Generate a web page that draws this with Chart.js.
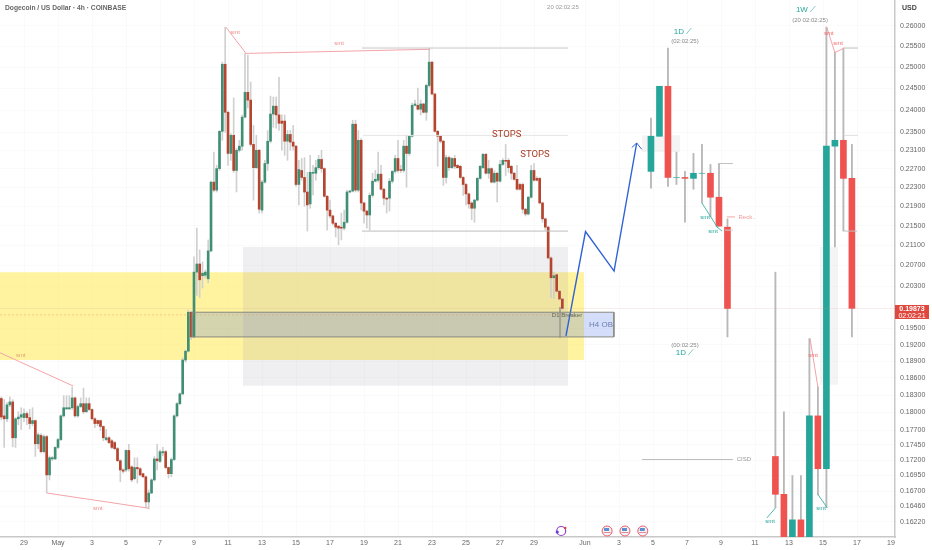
<!DOCTYPE html>
<html>
<head>
<meta charset="utf-8">
<title>Dogecoin / US Dollar</title>
<script src="https://cdn.jsdelivr.net/npm/chart.js"></script>
<style>
  html, body { margin: 0; padding: 0; background: #fff; }
  canvas { display: block; filter: blur(0.3px); }
</style>
</head>
<body>
<canvas id="chart" width="932" height="550"></canvas>
<script>
// x is counted in days from 29 Apr
const dayTicks = [0, 2, 4, 6, 8, 10, 12, 14, 16, 18, 20, 22, 24, 26, 28, 30, 33, 35, 37, 39, 41, 43, 45, 47, 49, 51];
const dayLabels = ['29', 'May', '3', '5', '7', '9', '11', '13', '15', '17', '19', '21', '23', '25', '27', '29', 'Jun', '3', '5', '7', '9', '11', '13', '15', '17', '19'];
const priceTicks = [0.26, 0.255, 0.25, 0.245, 0.24, 0.235, 0.231, 0.227, 0.223, 0.219, 0.215, 0.211, 0.207, 0.203,
  0.195, 0.192, 0.189, 0.186, 0.183, 0.18, 0.177, 0.1745, 0.172, 0.1695, 0.167, 0.1646, 0.1622];

// 4h candles
const open4h = [
  .1824,.1794,.1789,.1813,.1818,.1757,.1789,.1792,.1791,.1798,
  .1791,.1781,.1786,.1747,.1761,.1734,.1759,.1696,.1722,.1722,
  .1741,.1754,.1794,.1806,.1806,.1808,.1825,.1794,.1810,.1815,
  .1801,.1815,.1805,.1789,.1786,.1786,.1776,.1754,.1757,.1752,
  .1749,.1739,.1719,.1704,.1704,.1736,.1709,.1690,.1708,.1706,
  .1698,.1693,.1653,.1667,.1688,.1722,.1718,.1732,.1734,.1708,
  .1698,.1721,.1794,.1815,.1832,.1892,.1908,.1980,.1934,.2057,
  .2073,.2050,.2051,.2044,.2099,.2241,.2224,.2270,.2352,.2507,
  .2395,.2303,.2343,.2266,.2310,.2319,.2384,.2441,.2423,.2323,
  .2272,.2310,.2182,.2241,.2281,.2330,.2391,.2409,.2389,.2375,
  .2375,.2330,.2345,.2328,.2319,.2236,.2266,.2251,.2220,.2195,
  .2260,.2260,.2272,.2290,.2270,.2211,.2182,.2170,.2155,.2149,
  .2147,.2145,.2157,.2220,.2222,.2368,.2224,.2332,.2197,.2180,
  .2172,.2213,.2243,.2245,.2258,.2226,.2207,.2207,.2243,.2264,
  .2292,.2268,.2266,.2319,.2303,.2341,.2411,.2411,.2402,.2414,
  .2395,.2457,.2512,.2437,.2352,.2341,.2330,.2251,.2294,.2272,
  .2292,.2277,.2275,.2251,.2236,.2216,.2197,.2186,.2203,.2249,
  .2272,.2301,.2260,.2270,.2241,.2260,.2243,.2279,.2288,.2288,
  .2275,.2260,.2247,.2236,.2236,.2184,.2174,.2209,.2266,.2249,
  .2249,.2197,.2164,.2147,.2085,.2046,.2052,.2020,.2005];
const high4h = [
  .1827,.1822,.1817,.1827,.1822,.1791,.1801,.1808,.1806,.1801,
  .1805,.1808,.1787,.1765,.1764,.1762,.1761,.1727,.1726,.1742,
  .1756,.1796,.1829,.1829,.1829,.1844,.1827,.1813,.1825,.1842,
  .1825,.1825,.1806,.1791,.1787,.1787,.1777,.1771,.1759,.1754,
  .1751,.1741,.1721,.1706,.1737,.1746,.1711,.1724,.1724,.1708,
  .1699,.1694,.1672,.1690,.1726,.1746,.1737,.1741,.1736,.1709,
  .1724,.1796,.1817,.1834,.1896,.1910,.1984,.1982,.2087,.2145,
  .2101,.2077,.2061,.2121,.2243,.2306,.2277,.2354,.2512,.2597,
  .2398,.2347,.2428,.2314,.2332,.2389,.2534,.2529,.2465,.2365,
  .2343,.2312,.2245,.2288,.2354,.2432,.2430,.2430,.2476,.2389,
  .2389,.2354,.2354,.2365,.2321,.2288,.2292,.2294,.2262,.2299,
  .2277,.2288,.2299,.2310,.2272,.2213,.2203,.2172,.2157,.2151,
  .2176,.2182,.2224,.2224,.2377,.2377,.2354,.2336,.2199,.2182,
  .2218,.2260,.2266,.2306,.2277,.2228,.2209,.2249,.2266,.2299,
  .2332,.2277,.2332,.2343,.2343,.2416,.2423,.2451,.2423,.2416,
  .2460,.2546,.2514,.2439,.2354,.2343,.2332,.2299,.2297,.2294,
  .2299,.2279,.2277,.2253,.2239,.2218,.2199,.2205,.2251,.2277,
  .2303,.2303,.2288,.2272,.2266,.2262,.2288,.2292,.2323,.2292,
  .2277,.2262,.2277,.2239,.2239,.2186,.2211,.2277,.2281,.2253,
  .2251,.2199,.2166,.2149,.2087,.2057,.2054,.2022,.2007];
const low4h = [
  .1787,.1741,.1784,.1810,.1742,.1741,.1779,.1771,.1784,.1779,
  .1772,.1777,.1726,.1739,.1732,.1732,.1667,.1688,.1719,.1721,
  .1739,.1752,.1792,.1805,.1805,.1805,.1792,.1792,.1808,.1798,
  .1800,.1803,.1787,.1774,.1777,.1769,.1752,.1752,.1747,.1739,
  .1737,.1718,.1685,.1699,.1701,.1702,.1685,.1688,.1683,.1694,
  .1691,.1644,.1642,.1666,.1686,.1704,.1716,.1727,.1706,.1691,
  .1693,.1719,.1792,.1813,.1830,.1888,.1906,.1929,.1932,.2012,
  .2008,.2026,.2046,.2036,.2097,.2220,.2220,.2266,.2332,.2350,
  .2277,.2288,.2262,.2220,.2306,.2310,.2382,.2405,.2319,.2203,
  .2270,.2176,.2176,.2239,.2266,.2326,.2361,.2359,.2354,.2310,
  .2299,.2288,.2310,.2310,.2232,.2193,.2245,.2190,.2139,.2186,
  .2214,.2245,.2268,.2262,.2209,.2141,.2166,.2151,.2127,.2111,
  .2121,.2141,.2155,.2218,.2220,.2220,.2220,.2182,.2155,.2145,
  .2141,.2209,.2241,.2241,.2224,.2193,.2176,.2180,.2239,.2260,
  .2262,.2262,.2262,.2230,.2299,.2339,.2409,.2400,.2389,.2393,
  .2377,.2453,.2435,.2350,.2275,.2326,.2234,.2239,.2266,.2270,
  .2270,.2270,.2249,.2213,.2193,.2186,.2162,.2157,.2201,.2247,
  .2270,.2258,.2249,.2239,.2239,.2199,.2241,.2277,.2255,.2262,
  .2247,.2245,.2224,.2224,.2176,.2170,.2172,.2207,.2243,.2243,
  .2195,.2157,.2141,.2083,.2008,.2006,.2018,.2003,.1984];
const close4h = [
  .1792,.1789,.1813,.1818,.1757,.1789,.1792,.1796,.1798,.1791,
  .1781,.1786,.1747,.1762,.1734,.1759,.1696,.1724,.1724,.1741,
  .1754,.1794,.1808,.1808,.1808,.1825,.1794,.1810,.1815,.1801,
  .1815,.1805,.1789,.1781,.1781,.1776,.1757,.1757,.1749,.1741,
  .1739,.1719,.1704,.1702,.1736,.1706,.1688,.1708,.1706,.1696,
  .1693,.1653,.1667,.1688,.1722,.1719,.1734,.1734,.1708,.1698,
  .1721,.1794,.1815,.1832,.1892,.1908,.1980,.1934,.2057,.2073,
  .2042,.2055,.2057,.2099,.2241,.2224,.2270,.2352,.2507,.2395,
  .2303,.2343,.2266,.2310,.2319,.2384,.2441,.2423,.2323,.2272,
  .2310,.2184,.2241,.2281,.2330,.2391,.2409,.2389,.2370,.2370,
  .2330,.2345,.2328,.2319,.2236,.2268,.2251,.2220,.2193,.2262,
  .2262,.2272,.2290,.2270,.2211,.2182,.2170,.2155,.2147,.2145,
  .2145,.2157,.2220,.2222,.2368,.2224,.2332,.2197,.2180,.2172,
  .2213,.2243,.2247,.2258,.2226,.2207,.2205,.2243,.2264,.2292,
  .2266,.2266,.2319,.2303,.2341,.2411,.2414,.2402,.2414,.2395,
  .2457,.2512,.2437,.2352,.2341,.2330,.2251,.2294,.2272,.2292,
  .2275,.2272,.2251,.2236,.2216,.2195,.2186,.2203,.2249,.2275,
  .2301,.2260,.2270,.2241,.2260,.2243,.2279,.2288,.2286,.2272,
  .2260,.2247,.2226,.2226,.2184,.2174,.2209,.2266,.2245,.2245,
  .2197,.2164,.2147,.2085,.2046,.2050,.2020,.2005,.1987];

// projected 1D candles
const open1d  = [.2264,.2341,.2455,.2251,.2251,.2249,.2260,.2260,.2209,.2147];
const high1d  = [.2382,.2455,.2546,.2306,.2264,.2303,.2323,.2279,.2281,.2164];
const low1d   = [.2228,.2341,.2232,.2236,.2157,.2226,.2197,.2168,.2149,.1934];
const close1d = [.2341,.2455,.2251,.2251,.2249,.2260,.2260,.2209,.2149,.1987];

// projected 1W candles
const open1w  = [.1726,.1665,.1585,.1625,.1585,.1794,.1706,.2319,.2332,.2249];
const high1w  = [.2057,.1801,.1695,.1695,.1931,.1844,.2597,.2536,.2546,.2323];
const low1w   = [.1644,.1585,.1585,.1585,.1585,.1664,.1644,.2107,.2139,.1934];
const close1w = [.1665,.1585,.1625,.1585,.1794,.1706,.2319,.2332,.2249,.1987];

const xMin = -1.412, xMax = 51.235;
const yMin = 0.15987, yMax = 0.26651;

function candleSets(opens, highs, lows, closes, firstDay, step, up, down, wick, bodyW, wickW) {
  const xs = opens.map((_, i) => firstDay + i * step);
  return [{
    type: 'bar', order: 6, grouped: false, barThickness: wickW, backgroundColor: wick,
    data: xs.map((x, i) => ({ x: x, y: [lows[i], highs[i]] }))
  }, {
    type: 'bar', order: 5, grouped: false, barThickness: bodyW, minBarLength: 0,
    backgroundColor: closes.map((c, i) => c >= opens[i] ? up : down),
    data: xs.map((x, i) => ({ x: x, y: [opens[i], closes[i]] }))
  }];
}

function zone(x0, x1, top, bottom, color, order) {
  return {
    type: 'line', order: order, data: [{ x: x0, y: top }, { x: x1, y: top }],
    fill: { value: bottom }, backgroundColor: color, borderWidth: 0, pointRadius: 0
  };
}

function path(points, color, width, dash) {
  return {
    type: 'line', order: 2, data: points.map(p => ({ x: p[0], y: p[1] })), fill: false,
    borderColor: color, borderWidth: width || 1, borderDash: dash || [], pointRadius: 0, tension: 0
  };
}

const PINK = '#f5a3a8', TEAL = '#4db6ac', BLUE = '#2f62d6';

const datasets = [
  zone(xMin, 32.94, 0.2057, 0.1892, 'rgba(255,232,70,0.52)', 12),
  zone(12.88, 32, 0.2107, 0.1846, 'rgba(150,150,170,0.15)', 11),
  zone(9.88, 34.7, 0.1980, 0.1934, 'rgba(60,100,230,0.22)', 10),
  zone(36.35, 38.59, 0.2343, 0.2306, 'rgba(150,150,150,0.1)', 10),
  zone(46.82, 47.88, 0.2107, 0.1848, 'rgba(150,150,150,0.1)', 10),
  ...candleSets(open4h, high4h, low4h, close4h, -1.333, 1 / 6, '#3f8f74', '#b5452f', '#d0d0d0', 2, 1),
  ...candleSets(open1d, high1d, low1d, close1d, 36.88, 0.5, '#26a69a', '#ef5350', '#b8b8b8', 6, 1.2),
  ...candleSets(open1w, high1w, low1w, close1w, 44.2, 0.5, '#26a69a', '#ef5350', '#b8b8b8', 6, 1.2),
  path([[9.88, 0.1980], [34.7, 0.1980], [34.7, 0.1934], [9.88, 0.1934], [9.88, 0.1980]], '#8a8a80', 1),
  path([[xMin, 0.1987], [xMax, 0.1987]], 'rgba(200,160,150,0.18)', 1),
  path([[xMin, 0.1975], [31.7, 0.1975]], 'rgba(225,150,90,0.4)', 1, [2, 2]),
  path([[11.88, 0.2597], [13.06, 0.2533], [23.88, 0.2543]], PINK),
  path([[19.88, 0.2546], [32, 0.2546]], '#c8c8c8'),
  path([[19.94, 0.2343], [32, 0.2343]], '#e4e4e4'),
  path([[19.88, 0.2139], [32, 0.2139]], '#bcbcbc'),
  path([[xMin, 0.1905], [2.88, 0.1846]], PINK),
  path([[1.35, 0.1667], [7.35, 0.1643]], PINK),
  path([[31.53, 0.1990], [31.53, 0.1933]], '#a0a090'),
  path([[31.88, 0.1936], [33.03, 0.2138], [34.71, 0.2059], [36.04, 0.2326]], BLUE, 1.4),
  path([[35.75, 0.2316], [36.04, 0.2326], [36.34, 0.2312]], BLUE, 1),
  path([[39.88, 0.2197], [40.82, 0.2145]], TEAL),
  path([[40.7, 0.2149], [41.06, 0.2139]], TEAL),
  path([[40.88, 0.2281], [41.7, 0.2281]], '#c0c0c0'),
  path([[41.24, 0.2141], [41.7, 0.2141]], '#d0d0d0'),
  path([[41.35, 0.2168], [41.82, 0.2168]], PINK),
  path([[47.22, 0.2597], [47.7, 0.2535], [48.24, 0.2546]], PINK),
  path([[48.24, 0.2546], [49.06, 0.2546]], '#c0c0c0'),
  path([[48.24, 0.2139], [49, 0.2139]], '#c0c0c0'),
  path([[48.24, 0.2343], [49.06, 0.2343]], '#e0e0e0'),
  path([[46.24, 0.1931], [46.7, 0.1844]], PINK),
  path([[46.7, 0.1665], [47.24, 0.1644]], TEAL),
  path([[44.22, 0.1644], [43.7, 0.1628]], TEAL),
  path([[36.35, 0.1721], [41.7, 0.1721]], '#bdbdbd')
];

// text, day, price, colour, font
const SMALL = '6px "Liberation Sans", sans-serif';
const STOPS_FONT = '9.5px Roboto, sans-serif';
const notes = [
  ['smt', 12.41, 0.2585, '#ef8a8a', SMALL], ['smt', 18.53, 0.2558, '#ef8a8a', SMALL],
  ['smt', -0.18, 0.1901, '#e0a070', SMALL], ['smt', 4.35, 0.1643, '#ef8a8a', SMALL],
  ['H4 OB', 33.94, 0.1957, '#6c7fae', '8px "Liberation Sans", sans-serif'],
  ['D1 Breaker', 31.94, 0.1975, '#66665a', '6px "Liberation Sans", sans-serif'],
  ['STOPS', 28.39, 0.2345, '#a93a22', STOPS_FONT],
  ['STOPS', 30.06, 0.2301, '#a93a22', STOPS_FONT],
  ['1D ⟋', 38.76, 0.2585, '#26a69a', '8px "Liberation Sans", sans-serif'],
  ['(02:02:25)', 38.88, 0.2563, '#888', SMALL],
  ['(00:02:25)', 38.88, 0.1919, '#888', SMALL],
  ['1D ⟋', 38.88, 0.1905, '#26a69a', '8px "Liberation Sans", sans-serif'],
  ['1W ⟋', 46, 0.2640, '#26a69a', '8px "Liberation Sans", sans-serif'],
  ['(20 02:02:25)', 46.24, 0.2615, '#888', SMALL],
  ['20 02:02:25', 31.7, 0.2647, '#999', SMALL],
  ['smt', 40.06, 0.2168, '#26a69a', SMALL], ['smt', 40.53, 0.2139, '#26a69a', SMALL],
  ['Reck..', 42.53, 0.2168, '#ef9a9a', SMALL],
  ['smt', 47.35, 0.2583, '#ef6a6a', SMALL], ['smt', 47.88, 0.2558, '#ef6a6a', SMALL],
  ['smt', 46.41, 0.1901, '#ef6a6a', SMALL], ['smt', 46.88, 0.1643, '#26a69a', SMALL],
  ['smt', 43.88, 0.1623, '#26a69a', SMALL], ['CISD', 42.35, 0.1722, '#999', SMALL]
];

// event icons along the bottom, by day
const flagDays = [34.3, 35.35, 36.4];
const eventDay = 31.6;

const overlay = {
  id: 'overlay',
  afterDatasetsDraw(chart) {
    const ctx = chart.ctx, x = chart.scales.x, y = chart.scales.y;
    ctx.save();
    ctx.textAlign = 'center';
    ctx.textBaseline = 'middle';
    notes.forEach(n => {
      ctx.font = n[4];
      ctx.fillStyle = n[3];
      ctx.fillText(n[0], x.getPixelForValue(n[1]), y.getPixelForValue(n[2]));
    });

    const iy = chart.chartArea.bottom - 6;
    flagDays.forEach(d => {
      const ix = x.getPixelForValue(d);
      ctx.beginPath(); ctx.arc(ix, iy, 5, 0, Math.PI * 2);
      ctx.fillStyle = '#f4f4f8'; ctx.fill();
      ctx.strokeStyle = '#ec5a66'; ctx.lineWidth = 1; ctx.stroke();
      ctx.fillStyle = '#5a8fd0'; ctx.fillRect(ix - 3, iy - 3, 5, 3);
      ctx.fillStyle = '#e58a90'; ctx.fillRect(ix - 3.5, iy + 1, 7, 1);
    });
    const ex = x.getPixelForValue(eventDay);
    ctx.beginPath(); ctx.arc(ex, iy, 4.5, 0, Math.PI * 2);
    ctx.strokeStyle = '#8e44c8'; ctx.lineWidth = 1.2; ctx.stroke();
    ctx.fillStyle = '#6a3fd0'; ctx.beginPath(); ctx.arc(ex - 4, iy + 1, 1.6, 0, Math.PI * 2); ctx.fill();
    ctx.fillStyle = '#e0405a'; ctx.beginPath(); ctx.arc(ex + 4, iy - 3, 1.3, 0, Math.PI * 2); ctx.fill();

    ctx.textAlign = 'left';
    ctx.font = 'bold 6.7px "Liberation Sans", sans-serif';
    ctx.fillStyle = '#666';
    ctx.fillText('Dogecoin / US Dollar · 4h · COINBASE', 5, 8);
    ctx.font = 'bold 7px "Liberation Sans", sans-serif';
    ctx.fillStyle = '#444';
    ctx.fillText('USD', 902, 8);

    ctx.fillStyle = '#e0483e';
    ctx.fillRect(895, 305, 34, 14);
    ctx.fillStyle = '#fff';
    ctx.textAlign = 'center';
    ctx.font = 'bold 7px "Liberation Sans", sans-serif';
    ctx.fillText('0.19873', 912, 309);
    ctx.font = '7px "Liberation Sans", sans-serif';
    ctx.fillText('02:02:21', 912, 316);
    ctx.restore();
  }
};

new Chart(document.getElementById('chart'), {
  type: 'bar',
  data: { datasets: datasets },
  plugins: [overlay],
  options: {
    responsive: false,
    animation: false,
    layout: { padding: 0 },
    plugins: { legend: { display: false }, tooltip: { enabled: false } },
    scales: {
      x: {
        type: 'linear', min: xMin, max: xMax, offset: false,
        grid: { offset: false, color: 'rgba(0,0,0,0.02)', drawTicks: false },
        border: { color: '#c8c8c8', width: 1.5 },
        afterBuildTicks(s) { s.ticks = dayTicks.map(v => ({ value: v })); },
        afterFit(s) { s.height = 13; s.paddingLeft = 0; s.paddingRight = 0; },
        ticks: {
          autoSkip: false, maxRotation: 0, padding: 2, color: '#666',
          font: { family: 'Liberation Sans', size: 7 },
          callback: v => dayLabels[dayTicks.indexOf(v)]
        }
      },
      y: {
        type: 'logarithmic', position: 'right', min: yMin, max: yMax,
        grid: { color: 'rgba(0,0,0,0.02)', drawTicks: false },
        border: { color: '#c8c8c8', width: 1.5 },
        afterBuildTicks(s) { s.ticks = priceTicks.map(v => ({ value: v })); },
        afterFit(s) { s.width = 37; s.paddingTop = 0; s.paddingBottom = 0; },
        ticks: {
          autoSkip: false, padding: 5, color: '#666',
          font: { family: 'Liberation Sans', size: 7 },
          callback: v => Number(v).toFixed(5)
        }
      }
    }
  }
});
</script>
</body>
</html>
